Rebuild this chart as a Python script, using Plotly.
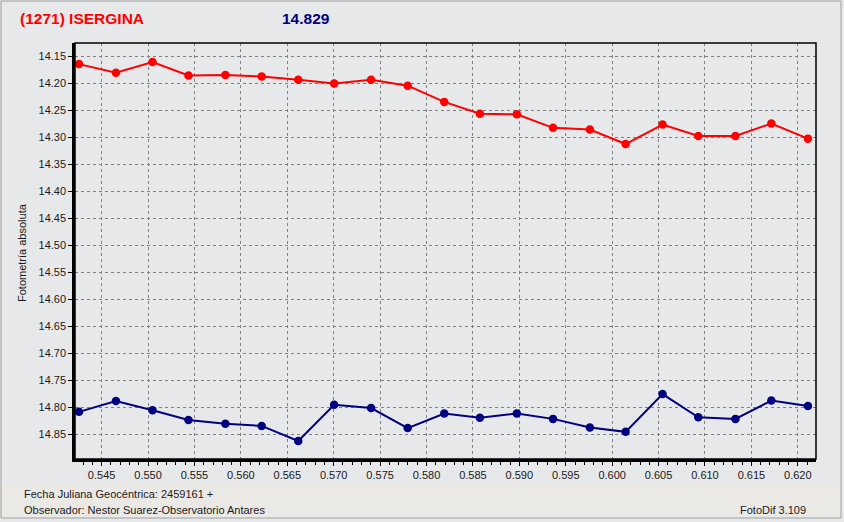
import plotly.graph_objects as go

jd = [0.54256, 0.54654, 0.55048, 0.55435, 0.55833, 0.56224, 0.56618, 0.57005,
      0.57403, 0.57797, 0.58191, 0.58575, 0.58973, 0.59363, 0.59760, 0.60145,
      0.60543, 0.60928, 0.61328, 0.61715, 0.62109]
asteroid = [14.165, 14.181, 14.161, 14.186, 14.185, 14.188, 14.194, 14.201,
            14.194, 14.205, 14.235, 14.257, 14.258, 14.283, 14.286, 14.313,
            14.277, 14.298, 14.298, 14.275, 14.303]
comparison = [14.809, 14.789, 14.806, 14.824, 14.831, 14.835, 14.863, 14.796,
              14.802, 14.839, 14.812, 14.820, 14.812, 14.822, 14.838, 14.846,
              14.776, 14.819, 14.822, 14.788, 14.798]

title_name = "(1271) ISERGINA"
title_mag = "14.829"
y_title = "Fotometría absoluta"
foot1 = "Fecha Juliana Geocéntrica: 2459161 +"
foot2 = "Observador: Nestor Suarez-Observatorio Antares"
foot3 = "FotoDif 3.109"

BG = "#E7E8EA"
FONT = "Liberation Sans, Arial, sans-serif"

fig = go.Figure()
fig.add_trace(go.Scatter(x=jd, y=asteroid, mode="lines+markers",
                         line=dict(color="#FF0000", width=2),
                         marker=dict(color="#FF0000", size=8.5, symbol="circle"),
                         showlegend=False))
fig.add_trace(go.Scatter(x=jd, y=comparison, mode="lines+markers",
                         line=dict(color="#000080", width=2),
                         marker=dict(color="#000080", size=8.5, symbol="circle"),
                         showlegend=False))

L, R, T, B = 75, 28, 43, 63
W, H = 844, 522
pw = W - L - R
ph = H - T - B


def px(x):
    return (x - L) / pw


def py(y):
    return (H - B - y) / ph


grid = dict(showgrid=True, gridcolor="#808080", gridwidth=1, griddash="3px,3px",
            zeroline=False, showline=True, linecolor="black", linewidth=2.5,
            ticks="outside", ticklen=4, tickcolor="black",
            tickfont=dict(family=FONT, size=11, color="#1a1a1a"))

fig.update_layout(
    width=W, height=H,
    margin=dict(l=L, r=R, t=T, b=B),
    paper_bgcolor=BG, plot_bgcolor=BG,
    font=dict(family=FONT, size=11, color="#1a1a1a"),
    xaxis=dict(range=[0.54213, 0.62196], tick0=0.545, dtick=0.005, tickformat=".3f",
               minor=dict(dtick=0.001, ticks="outside", ticklen=3, tickcolor="black",
                          showgrid=False),
               **grid),
    yaxis=dict(range=[14.8963, 14.1259], tick0=14.15, dtick=0.05, tickformat=".2f",
               **grid),
    shapes=[
        dict(type="rect", xref="paper", yref="paper", layer="below",
             x0=px(2), x1=px(840), y0=py(517), y1=py(483),
             fillcolor="#EBE9E6", line=dict(width=0)),
        dict(type="rect", xref="paper", yref="paper",
             x0=px(1), x1=px(841), y0=py(518), y1=py(1),
             line=dict(color="#A0A0A0", width=1)),
        dict(type="rect", xref="paper", yref="paper",
             x0=0, x1=1, y0=0, y1=1,
             line=dict(color="black", width=1.5)),
    ],
    annotations=[
        dict(text=f"<b>{title_name}</b>", xref="paper", yref="paper",
             x=px(18), y=py(19), xanchor="left", yanchor="middle", showarrow=False,
             font=dict(family=FONT, size=15.5, color="#FF0000")),
        dict(text=f"<b>{title_mag}</b>", xref="paper", yref="paper",
             x=px(280), y=py(19), xanchor="left", yanchor="middle", showarrow=False,
             font=dict(family=FONT, size=15.5, color="#000080")),
        dict(text=y_title, xref="paper", yref="paper", textangle=-90,
             x=px(22), y=py(253), xanchor="center", yanchor="middle", showarrow=False,
             font=dict(family=FONT, size=11, color="#1a1a1a")),
        dict(text=foot1, xref="paper", yref="paper",
             x=px(22), y=py(494), xanchor="left", yanchor="middle", showarrow=False,
             font=dict(family=FONT, size=11, color="#1a1a1a")),
        dict(text=foot2, xref="paper", yref="paper",
             x=px(22), y=py(510), xanchor="left", yanchor="middle", showarrow=False,
             font=dict(family=FONT, size=11, color="#1a1a1a")),
        dict(text=foot3, xref="paper", yref="paper",
             x=px(808), y=py(510), xanchor="right", yanchor="middle", showarrow=False,
             font=dict(family=FONT, size=11, color="#1a1a1a")),
    ],
)

fig.write_html("out.html", config={"displayModeBar": False},
               post_script="document.body.style.margin='0';document.body.style.overflow='hidden';")
